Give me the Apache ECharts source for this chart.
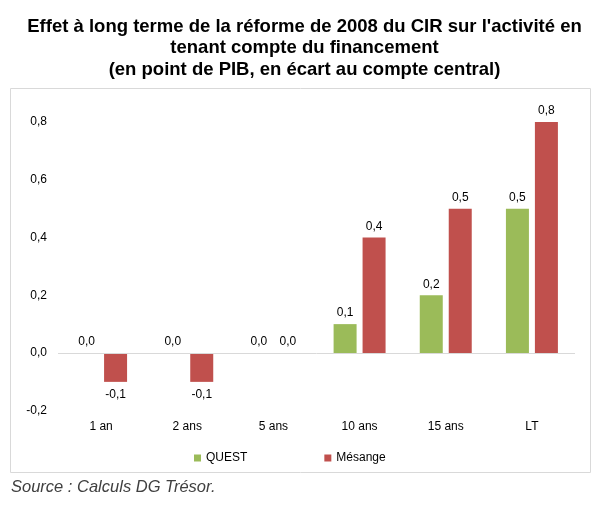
<!DOCTYPE html>
<html><head><meta charset="utf-8">
<script src="https://cdn.jsdelivr.net/npm/echarts@6/dist/echarts.min.js"></script>
<style>html,body{margin:0;padding:0;background:#fff}#c{width:609px;height:513px}</style>
</head><body><div id="c"></div>
<script>
var categories = ['1 an', '2 ans', '5 ans', '10 ans', '15 ans', 'LT'];
var questValues = [0.0, 0.0, 0.0, 0.1, 0.2, 0.5];
var mesangeValues = [-0.1, -0.1, 0.0, 0.4, 0.5, 0.8];
var yTicks = [-0.2, 0, 0.2, 0.4, 0.6, 0.8];

var FONT = '"Liberation Sans", Arial, sans-serif';
function fmt(v) { return v.toFixed(1).replace('.', ','); }
function toData(arr) {
  return arr.map(function (v) {
    return v < 0 ? { value: v, label: { position: 'bottom', distance: 7 } } : { value: v };
  });
}
var labelCfg = { show: true, position: 'top', distance: 5, color: '#000', fontFamily: FONT, fontSize: 12,
  formatter: function (p) { return fmt(p.value); } };

var chart = echarts.init(document.getElementById('c'), null, { renderer: 'canvas' });
chart.setOption({
  animation: false,
  textStyle: { fontFamily: FONT },
  title: {
    text: "Effet à long terme de la réforme de 2008 du CIR sur l'activité en\ntenant compte du financement\n(en point de PIB, en écart au compte central)",
    left: 'center', top: 16, padding: 0, itemGap: 0,
    textStyle: { fontFamily: FONT, fontSize: 18.5, fontWeight: 'bold', color: '#000', lineHeight: 21.5, align: 'center' }
  },
  graphic: [
    { type: 'rect', shape: { x: 10.5, y: 88.5, width: 580, height: 384 }, style: { fill: 'none', stroke: '#d9d9d9', lineWidth: 1 }, silent: true, z: -1 },
    { type: 'text', left: 11, top: 479, style: { text: 'Source : Calculs DG Trésor.', fontFamily: FONT, fontSize: 16.5, fontStyle: 'italic', fill: '#404040' } }
  ],
  legend: {
    data: ['QUEST', 'Mésange'], bottom: 49, left: 194, padding: 0, itemWidth: 7, itemHeight: 7, itemGap: 77,
    icon: 'rect', textStyle: { fontFamily: FONT, fontSize: 12, color: '#000' }
  },
  grid: { left: 58, right: 34, top: 122, bottom: 102.25, containLabel: false },
  xAxis: {
    type: 'category', data: categories,
    axisLine: { show: false, onZero: false }, axisTick: { show: false },
    axisLabel: { color: '#000', fontSize: 12, fontFamily: FONT, margin: 10 }
  },
  yAxis: {
    type: 'value', min: -0.2, max: 0.8, interval: 0.2,
    axisLine: { show: false }, axisTick: { show: false }, splitLine: { show: false },
    axisLabel: { color: '#000', fontSize: 12, fontFamily: FONT, margin: 11,
      formatter: function (v) { return fmt(v); }, customValues: yTicks }
  },
  series: [
    { name: 'QUEST', type: 'bar', data: toData(questValues), barWidth: 23, barGap: '26%',
      itemStyle: { color: '#9BBB59' }, label: labelCfg,
      markLine: { silent: true, symbol: 'none', label: { show: false }, lineStyle: { color: '#d9d9d9', type: 'solid', width: 1 }, data: [{ yAxis: 0 }] } },
    { name: 'Mésange', type: 'bar', data: toData(mesangeValues), barWidth: 23, barGap: '26%',
      itemStyle: { color: '#C0504D' }, label: labelCfg }
  ]
});
</script></body></html>
